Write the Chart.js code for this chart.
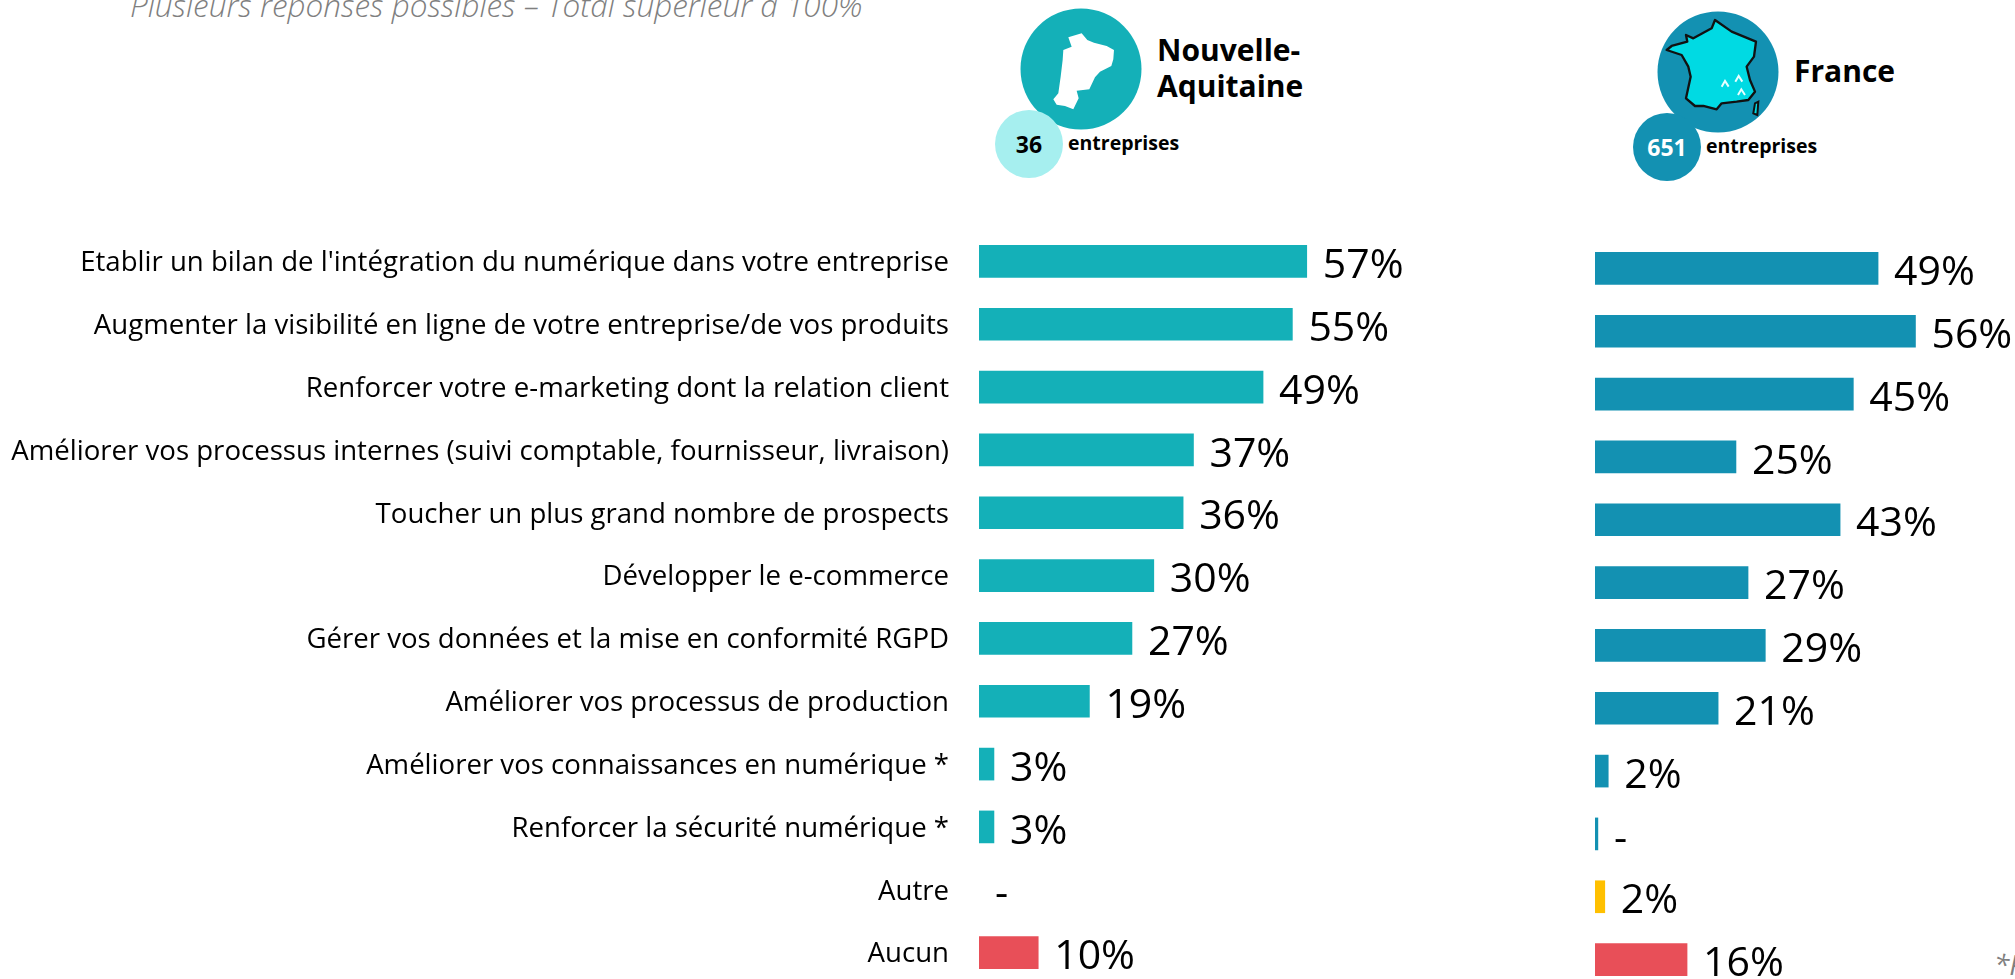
<!DOCTYPE html>
<html lang="fr"><head><meta charset="utf-8">
<script src="https://cdn.jsdelivr.net/npm/chart.js@4"></script>
<style>
html,body{margin:0;padding:0;background:#fff;width:2015px;height:979px;overflow:hidden;position:relative}
canvas{position:absolute}
#w1{position:absolute;left:0;top:230px;width:1554px;height:754px}
#w2{position:absolute;left:1595px;top:237px;width:420px;height:754px}
svg{position:absolute;left:0;top:0}
.t{position:absolute;font-family:"Open Sans",sans-serif;white-space:nowrap;color:#000}
.b{font-weight:700}
</style></head><body>
<svg width="2015" height="979">
<circle cx="1081" cy="69" r="60.5" fill="#14B0B8"/>
<circle cx="1029" cy="144" r="34" fill="#A6EFEF"/>
<g transform="translate(950,0) scale(.3333)"><path fill="#fff" d="M355 112L395 100L412 120L432 128L470 138L492 150L490 178L484 198L450 215L435 232L418 268L380 272L386 295L370 328L345 318L320 314L310 298L325 280L332 230L338 180L340 150L365 140Z"/></g>
<circle cx="1718" cy="72" r="60.5" fill="#1391B2"/>
<circle cx="1667" cy="147" r="34" fill="#1391B2"/>
<g transform="translate(1600,0) scale(.3333)">
<path fill="#00DAE3" stroke="#111" stroke-width="7" stroke-linejoin="round" d="M345 60L395 95L468 125L462 170L440 200L450 240L465 275L445 300L410 305L365 310L350 328L310 318L285 318L258 295L272 230L265 200L245 165L200 150L215 138L262 125L258 105L280 115L335 85Z"/>
<path fill="#00DAE3" stroke="#111" stroke-width="6" d="M465 310L475 305L472 345L460 340Z"/>
<path fill="none" stroke="#E8FFFF" stroke-width="6" d="M365 260L375 243L386 260M406 245L416 228L427 245M414 285L424 268L435 285"/>
</g>
</svg>
<div class="t" style="left:130px;top:-17px;font-size:31.5px;font-style:italic;font-weight:300;color:#7f7f7f">Plusieurs réponses possibles – Total supérieur à 100%</div>
<div class="t b" style="left:1157px;top:32px;font-size:30px;line-height:36px">Nouvelle-<br>Aquitaine</div>
<div class="t b" style="left:1029px;top:144px;font-size:23px;line-height:1;transform:translate(-50%,-50%)">36</div>
<div class="t b" style="left:1068px;top:129px;font-size:19.5px">entreprises</div>
<div class="t b" style="left:1794px;top:50px;font-size:30px">France</div>
<div class="t b" style="left:1667px;top:147px;font-size:23px;line-height:1;color:#fff;transform:translate(-50%,-50%)">651</div>
<div class="t b" style="left:1706px;top:132px;font-size:19.5px">entreprises</div>
<div class="t" style="left:1994px;top:945px;font-size:28px;font-style:italic;color:#7f7f7f">*P</div>
<div id="w1"><canvas id="c1"></canvas></div>
<div id="w2"><canvas id="c2"></canvas></div>
<script>
const categories = ["Etablir un bilan de l'intégration du numérique dans votre entreprise","Augmenter la visibilité en ligne de votre entreprise/de vos produits","Renforcer votre e-marketing dont la relation client","Améliorer vos processus internes (suivi comptable, fournisseur, livraison)","Toucher un plus grand nombre de prospects","Développer le e-commerce","Gérer vos données et la mise en conformité RGPD","Améliorer vos processus de production","Améliorer vos connaissances en numérique *","Renforcer la sécurité numérique *","Autre","Aucun"];
const aquitaineValues = [57, 54.5, 49.4, 37.3, 35.5, 30.4, 26.6, 19.2, 2.6, 2.6, null, 10.3];
const aquitaineLabels = ["57%","55%","49%","37%","36%","30%","27%","19%","3%","3%","-","10%"];
const franceValues = [49.2, 55.7, 44.9, 24.5, 42.6, 26.6, 29.6, 21.4, 2.3, 0.5, 1.7, 16];
const franceLabels = ["49%","56%","45%","25%","43%","27%","29%","21%","2%","-","2%","16%"];
const TEAL="#14B0B8", BLUE="#1391B2", RED="#E84F58", YEL="#FFC000";
const aquitaineColors = categories.map((c,i)=> i===11?RED:TEAL);
const franceColors = categories.map((c,i)=> i===11?RED:(i===10?YEL:BLUE));
const valueLabels = {id:"valueLabels",afterDatasetsDraw(ch,a,opts){
  const ctx=ch.ctx, xs=ch.scales.x, ys=ch.scales.y;
  ctx.save();ctx.font='41px "Open Sans", sans-serif';ctx.fillStyle="#000";ctx.textBaseline="middle";ctx.textAlign="left";
  ch.data.datasets[0].data.forEach((v,i)=>{ctx.fillText(opts.labels[i],xs.getPixelForValue(v||0)+16,ys.getPixelForValue(i)+5);});
  ctx.restore();
}};
function make(id,vals,colors,labels,axisW,max,showY){
  return new Chart(document.getElementById(id),{type:"bar",plugins:[valueLabels],
   data:{labels:categories,datasets:[{data:vals,backgroundColor:colors,barThickness:32,borderWidth:0}]},
   options:{indexAxis:"y",responsive:true,maintainAspectRatio:false,animation:false,
    layout:{padding:0},
    plugins:{legend:{display:false},tooltip:{enabled:false},valueLabels:{labels}},
    scales:{
      x:{min:0,max,display:false},
      y:{display:showY,border:{display:false},grid:{display:false,drawTicks:false},
         afterFit(s){if(showY){s.width=axisW;s.paddingTop=0;s.paddingBottom=0;}},
         ticks:{padding:30,labelOffset:2,color:"#000",autoSkip:false,font:{family:'"Open Sans", sans-serif',size:27.6}}}
    }}});
}
make("c1",aquitaineValues,aquitaineColors,aquitaineLabels,979,100,true);
make("c2",franceValues,franceColors,franceLabels,0,73,false);
</script>
</body></html>
